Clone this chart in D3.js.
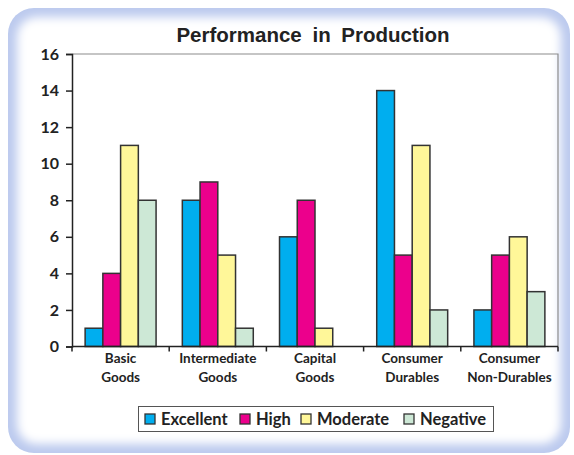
<!DOCTYPE html>
<html>
<head>
<meta charset="utf-8">
<script src="https://cdn.jsdelivr.net/npm/d3@7"></script>
<style>
  body { margin: 0; background: #fff; }
  text { font-family: Lato, "Open Sans", sans-serif; fill: #222; }
</style>
</head>
<body>
<div class="chart"></div>
<script>
// data
var categories = [["Basic", "Goods"], ["Intermediate", "Goods"], ["Capital", "Goods"],
  ["Consumer", "Durables"], ["Consumer", "Non-Durables"]];
var seriesNames = ["Excellent", "High", "Moderate", "Negative"];
var seriesColors = ["#00aeef", "#ec008c", "#fff799", "#cde8d6"];
var excellent = [1, 8, 6, 14, 2];
var high = [4, 9, 8, 5, 5];
var moderate = [11, 5, 1, 11, 6];
var negative = [8, 1, 0, 2, 3];
var yTicks = [0, 2, 4, 6, 8, 10, 12, 14, 16];

var seriesValues = [excellent, high, moderate, negative];

var svgWidth = 574;
var svgHeight = 455;

// plot area
var plot = { left: 72, right: 558, top: 54, bottom: 346.5 };

var svg = d3.select(".chart")
  .append("svg")
  .attr("width", svgWidth)
  .attr("height", svgHeight);

var defs = svg.append("defs");
defs.append("clipPath").attr("id", "panelClip")
  .append("rect")
  .attr("x", 8).attr("y", 8)
  .attr("width", 562).attr("height", 445)
  .attr("rx", 26).attr("ry", 26);
defs.append("filter").attr("id", "soft")
  .attr("x", "-10%").attr("y", "-10%").attr("width", "120%").attr("height", "120%")
  .append("feGaussianBlur").attr("stdDeviation", 5);

// rounded panel with a soft blue edge
var panel = svg.append("g").attr("clip-path", "url(#panelClip)");
panel.append("rect")
  .attr("x", 8).attr("y", 8)
  .attr("width", 562).attr("height", 445)
  .attr("fill", "#bccaee");
panel.append("rect")
  .attr("x", 17).attr("y", 17)
  .attr("width", 544).attr("height", 427)
  .attr("rx", 20)
  .attr("fill", "#ffffff")
  .attr("filter", "url(#soft)");

// title
svg.append("text")
  .attr("x", 313)
  .attr("y", 42)
  .attr("text-anchor", "middle")
  .style("font-family", "'Liberation Sans', Arial, sans-serif")
  .style("font-weight", "bold")
  .style("font-size", "20.5px")
  .style("word-spacing", "5px")
  .text("Performance in Production");

// scales
var x0 = d3.scaleBand()
  .domain(d3.range(categories.length))
  .range([plot.left, plot.right])
  .paddingInner(0.27)
  .paddingOuter(0.135);

var x1 = d3.scaleBand()
  .domain(d3.range(seriesNames.length))
  .range([0, x0.bandwidth()]);

var y = d3.scaleLinear()
  .domain([0, 16])
  .range([plot.bottom, plot.top]);

// plot frame (top and right)
svg.append("path")
  .attr("d", `M${plot.left},${plot.top}H${plot.right}V${plot.bottom}`)
  .attr("fill", "none")
  .attr("stroke", "#8c8c8c")
  .attr("stroke-width", 1.2);

// bars
var groups = svg.append("g").selectAll("g")
  .data(categories)
  .enter()
  .append("g")
  .attr("transform", (d, i) => `translate(${x0(i)},0)`);

groups.selectAll("rect")
  .data((d, i) => seriesValues.map((vals, s) => ({ s: s, v: vals[i] })))
  .enter()
  .filter(d => d.v > 0)
  .append("rect")
  .attr("x", d => x1(d.s))
  .attr("y", d => y(d.v))
  .attr("width", x1.bandwidth())
  .attr("height", d => y(0) - y(d.v))
  .attr("fill", d => seriesColors[d.s])
  .attr("stroke", "#333")
  .attr("stroke-width", 1.5);

// y axis
var leftAxis = d3.axisLeft(y)
  .tickValues(yTicks)
  .tickSize(6)
  .tickPadding(7)
  .tickFormat(d3.format("d"));

var yAxis = svg.append("g")
  .attr("transform", `translate(${plot.left},0)`)
  .call(leftAxis);
yAxis.select(".domain").attr("stroke", "#222").attr("stroke-width", 1.5);
yAxis.selectAll(".tick line").attr("stroke", "#222").attr("stroke-width", 1.5);
yAxis.selectAll(".tick text")
  .style("font-family", "Lato, sans-serif")
  .style("font-size", "16px")
  .style("font-weight", "bold")
  .attr("fill", "#222");

// x axis line and category divider ticks
var step = x0.step();
var xAxis = svg.append("g");
xAxis.append("line")
  .attr("x1", plot.left).attr("x2", plot.right)
  .attr("y1", plot.bottom).attr("y2", plot.bottom)
  .attr("stroke", "#222").attr("stroke-width", 1.5);
xAxis.selectAll(".divider")
  .data(d3.range(categories.length + 1))
  .enter()
  .append("line")
  .attr("x1", i => plot.left + i * step)
  .attr("x2", i => plot.left + i * step)
  .attr("y1", plot.bottom)
  .attr("y2", plot.bottom + 5)
  .attr("stroke", "#222").attr("stroke-width", 1.5);

// category labels
var catLabels = xAxis.selectAll(".cat")
  .data(categories)
  .enter()
  .append("text")
  .attr("text-anchor", "middle")
  .style("font-size", "13.5px")
  .style("font-weight", "bold")
  .attr("transform", (d, i) => `translate(${x0(i) + x0.bandwidth() / 2},0)`);
catLabels.append("tspan").attr("x", 0).attr("y", 363).text(d => d[0]);
catLabels.append("tspan").attr("x", 0).attr("y", 382).text(d => d[1]);

// legend
var legendX = [145, 240, 301, 404];
var legend = svg.append("g");
legend.append("rect")
  .attr("x", 138.5).attr("y", 406.5)
  .attr("width", 355).attr("height", 25)
  .attr("fill", "#fff")
  .attr("stroke", "#555")
  .attr("stroke-width", 1);

var items = legend.selectAll(".item")
  .data(seriesNames)
  .enter()
  .append("g")
  .attr("transform", (d, i) => `translate(${legendX[i]},0)`);
items.append("rect")
  .attr("x", 0).attr("y", 414)
  .attr("width", 10).attr("height", 10)
  .attr("fill", (d, i) => seriesColors[i])
  .attr("stroke", "#333")
  .attr("stroke-width", 1.3);
items.append("text")
  .attr("x", 16)
  .attr("y", 425)
  .style("font-size", "16.5px")
  .style("font-weight", "bold")
  .text(d => d);
</script>
</body>
</html>
